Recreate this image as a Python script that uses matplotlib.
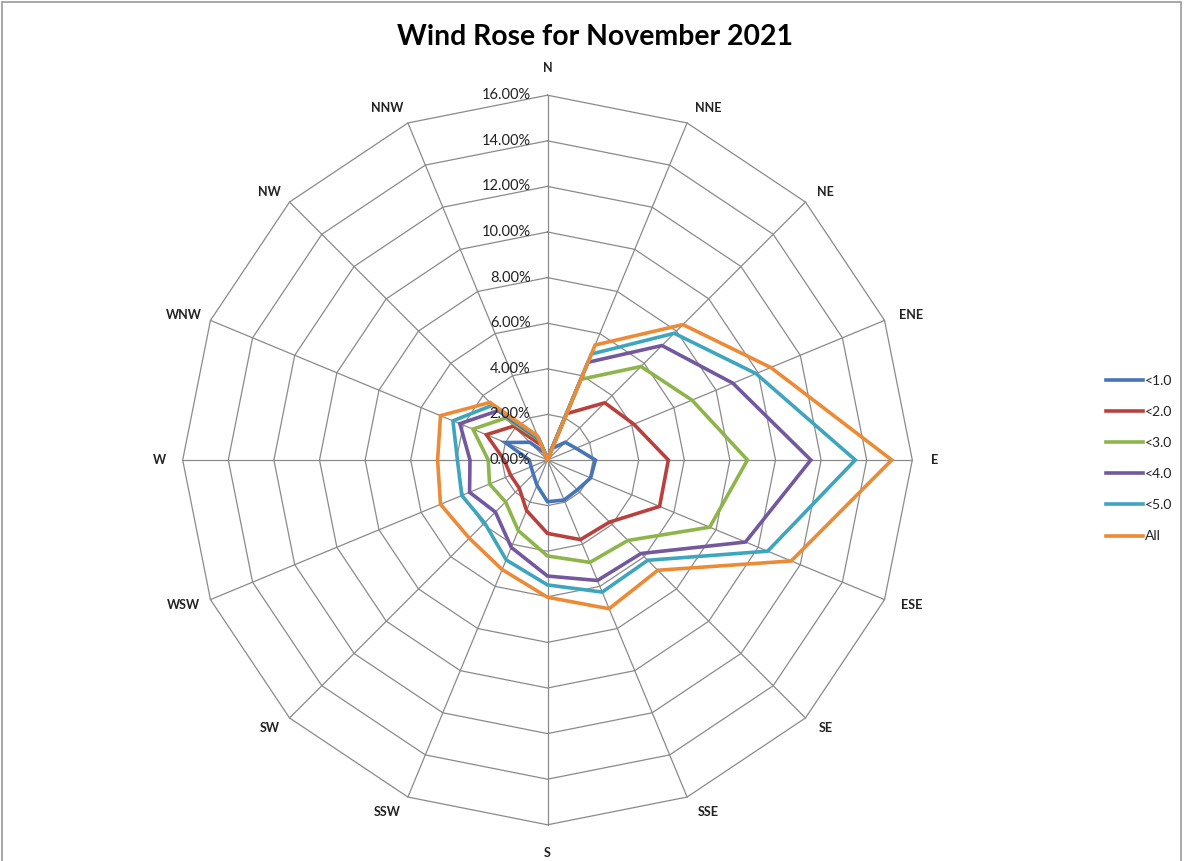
import numpy as np
import matplotlib
matplotlib.use('Agg')
import matplotlib.pyplot as plt
from matplotlib.patches import Rectangle

plt.rcParams['font.family'] = ['Lato', 'DejaVu Sans']

## DATA (percent of time, cumulative by wind speed class)
directions = ['N', 'NNE', 'NE', 'ENE', 'E', 'ESE', 'SE', 'SSE',
              'S', 'SSW', 'SW', 'WSW', 'W', 'WNW', 'NW', 'NNW']
series_names = ['<1.0', '<2.0', '<3.0', '<4.0', '<5.0', 'All']

lt_1 = [0.05, 0.55, 1.10, 1.35, 2.10, 2.05, 1.85, 1.90, 1.83, 1.20, 0.88, 0.78, 0.80, 2.00, 1.10, 0.35]
lt_2 = [0.05, 2.20, 3.55, 4.10, 5.30, 5.32, 3.85, 3.78, 3.22, 2.40, 1.75, 1.75, 1.90, 2.90, 2.10, 0.70]
lt_3 = [0.05, 3.83, 5.80, 6.86, 8.77, 7.70, 4.99, 4.86, 4.21, 3.35, 2.60, 2.75, 2.60, 3.54, 2.60, 0.95]
lt_4 = [0.05, 4.64, 7.10, 8.80, 11.55, 9.40, 5.80, 5.72, 5.09, 4.15, 3.23, 3.70, 3.40, 4.16, 3.06, 1.00]
lt_5 = [0.05, 5.03, 7.86, 9.90, 13.50, 10.45, 6.22, 6.27, 5.48, 4.74, 3.90, 4.07, 3.95, 4.49, 3.40, 1.05]
all_ = [0.00, 5.46, 8.40, 10.60, 15.10, 11.57, 6.84, 7.06, 6.02, 5.20, 4.85, 5.08, 4.82, 5.08, 3.57, 1.15]

ring_values = [0, 2, 4, 6, 8, 10, 12, 14, 16]

colors = ['#4575B8', '#B9403D', '#8EB54A', '#7358A0', '#3EA5BF', '#ED8A35']

## FIGURE: pixel-matched layout (centre at 547.5, 460 px; 22.8 px per %)
W_PX, H_PX = 1188, 861
cx, cy = 547.5, 460.0
scale = 22.8

fig = plt.figure(figsize=(W_PX / 100, H_PX / 100), dpi=100)
ax = fig.add_axes([0, 0, 1, 1])
ax.set_xlim(-cx / scale, (W_PX - cx) / scale)
ax.set_ylim(-(H_PX - cy) / scale, cy / scale)
ax.axis('off')

n = len(directions)
theta = np.arange(n) * 2 * np.pi / n  # clockwise from north
ux = np.sin(theta)
uy = np.cos(theta)

# polygon grid
grid_col = '#8a8a8a'
for r in ring_values[1:]:
    ax.plot(np.append(ux, ux[0]) * r, np.append(uy, uy[0]) * r,
            color=grid_col, lw=0.9, zorder=1)
for i in range(n):
    ax.plot([0, ux[i] * ring_values[-1]], [0, uy[i] * ring_values[-1]],
            color=grid_col, lw=0.9, zorder=1)

# ring labels along the north spoke
for r in ring_values:
    ax.text(-0.75, r, f'{r:.2f}%', ha='right', va='center',
            fontsize=10.5, color='#222222', zorder=5)

# direction labels: outer vertex plus a pixel offset (Excel-like placement)
label_off = [(0, 27), (21, 15), (20, 10), (27, 5), (22, 0), (27, -5), (20, -10), (21, -15),
             (0, -28), (-21, -15), (-20, -10), (-27, -5), (-23, 0), (-27, 5), (-20, 10), (-21, 15)]
rmax = ring_values[-1]
for i, d in enumerate(directions):
    ox, oy = label_off[i]
    ax.text(ux[i] * rmax + ox / scale, uy[i] * rmax + oy / scale, d,
            ha='center', va='center', fontsize=9, fontweight='bold', color='#222222')

# data series
all_series = [lt_1, lt_2, lt_3, lt_4, lt_5, all_]
handles = []
for k, vals in enumerate(all_series):
    v = np.array(vals)
    xs = np.append(ux * v, ux[0] * v[0])
    ys = np.append(uy * v, uy[0] * v[0])
    h, = ax.plot(xs, ys, color=colors[k], lw=2.6, zorder=3 + k * 0.1,
                 solid_joinstyle='miter', label=series_names[k])
    handles.append(h)

fig.text(595 / W_PX, 1 - 37 / H_PX, 'Wind Rose for November 2021',
         ha='center', va='center', fontsize=20.4, fontweight='bold', color='black')

leg = fig.legend(handles=handles, loc='center left',
                 bbox_to_anchor=(1099 / W_PX, 1 - 458.5 / H_PX),
                 frameon=False, fontsize=10, handlelength=2.7,
                 handletextpad=0.1, labelspacing=1.38, borderpad=0)
for t in leg.get_texts():
    t.set_color('#222222')

# chart-area border
fig.patches.append(Rectangle((2 / W_PX, -0.01), 1179 / W_PX, 1 - 2 / H_PX + 0.01,
                             transform=fig.transFigure, fill=False,
                             edgecolor='#9a9a9a', lw=1.2))

fig.savefig('out.png', dpi=100)
